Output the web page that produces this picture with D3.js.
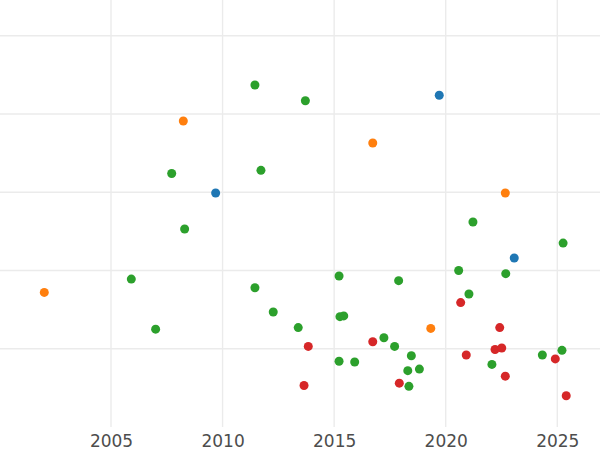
<!DOCTYPE html>
<html>
<head>
<meta charset="utf-8">
<script src="https://cdn.jsdelivr.net/npm/d3@7"></script>
<style>
  html, body { margin: 0; padding: 0; background: #ffffff; }
  svg { display: block; }
</style>
</head>
<body>
<svg id="chart" width="600" height="450"></svg>
<script>
// ---- data ----
const xTicks = [2005, 2010, 2015, 2020, 2025];
const yGrid = [1, 2, 3, 4, 5];

const blueYears  = [2019.71, 2009.69, 2023.07];
const blueValues = [4.24, 2.99, 2.16];

const orangeYears  = [2008.24, 2016.73, 2022.67, 2002.01, 2019.33];
const orangeValues = [3.91, 3.63, 2.99, 1.72, 1.26];

const greenYears = [2011.45, 2013.71, 2007.72, 2011.72, 2021.22, 2008.30, 2025.26, 2005.91,
  2011.45, 2012.27, 2007.00, 2013.39, 2020.58, 2022.69, 2015.22, 2017.89, 2021.04, 2015.26,
  2015.43, 2017.23, 2017.71, 2025.21, 2015.22, 2015.92, 2018.46, 2024.33, 2022.07, 2018.30,
  2018.82, 2018.35];
const greenValues = [4.37, 4.17, 3.24, 3.28, 2.62, 2.53, 2.35, 1.89,
  1.78, 1.47, 1.25, 1.27, 2.00, 1.96, 1.93, 1.87, 1.70, 1.41,
  1.42, 1.14, 1.03, 0.98, 0.84, 0.83, 0.91, 0.92, 0.80, 0.72,
  0.74, 0.52];

const redYears = [2020.67, 2022.42, 2013.84, 2016.73, 2022.21, 2022.51, 2020.92, 2024.91,
  2022.67, 2013.65, 2017.92, 2025.40];
const redValues = [1.59, 1.27, 1.03, 1.09, 0.99, 1.01, 0.92, 0.87,
  0.65, 0.53, 0.56, 0.40];

const seriesNames  = ["blue", "orange", "green", "red"];
const seriesColors = ["#1f77b4", "#ff7f0e", "#2ca02c", "#d62728"];
const seriesYears  = [blueYears, orangeYears, greenYears, redYears];
const seriesValues = [blueValues, orangeValues, greenValues, redValues];

// ---- layout ----
const W = 600, H = 450;
const panelBottom = 427;
const svg = d3.select("#chart");

const x = d3.scaleLinear().domain([2005, 2025]).range([111, 557.3]);
const y = d3.scaleLinear().domain([0, 5]).range([panelBottom, panelBottom - 5 * 78.25]);

const grid = svg.append("g");
grid.selectAll("line.v").data(xTicks).join("line")
  .attr("class", "v")
  .attr("x1", d => x(d)).attr("x2", d => x(d))
  .attr("y1", 0).attr("y2", panelBottom)
  .attr("stroke", "#ebebeb").attr("stroke-width", 1.4);
grid.selectAll("line.h").data(yGrid).join("line")
  .attr("class", "h")
  .attr("x1", 0).attr("x2", W)
  .attr("y1", d => y(d)).attr("y2", d => y(d))
  .attr("stroke", "#ebebeb").attr("stroke-width", 1.4);

const xAxis = d3.axisBottom(x).tickValues(xTicks).tickFormat(d3.format("d")).tickSize(0).tickPadding(8);
const ax = svg.append("g").attr("transform", `translate(0,${panelBottom})`).call(xAxis);
ax.select(".domain").remove();
ax.selectAll("text")
  .attr("fill", "#4d4d4d")
  .style("font-family", "'DejaVu Sans', sans-serif")
  .style("font-size", "17px");

const points = [];
seriesNames.forEach((name, i) => {
  seriesYears[i].forEach((yr, j) => {
    points.push({ series: name, color: seriesColors[i], year: yr, value: seriesValues[i][j] });
  });
});

svg.append("g").selectAll("circle").data(points).join("circle")
  .attr("cx", d => x(d.year))
  .attr("cy", d => y(d.value))
  .attr("r", 4.5)
  .attr("fill", d => d.color);
</script>
</body>
</html>
